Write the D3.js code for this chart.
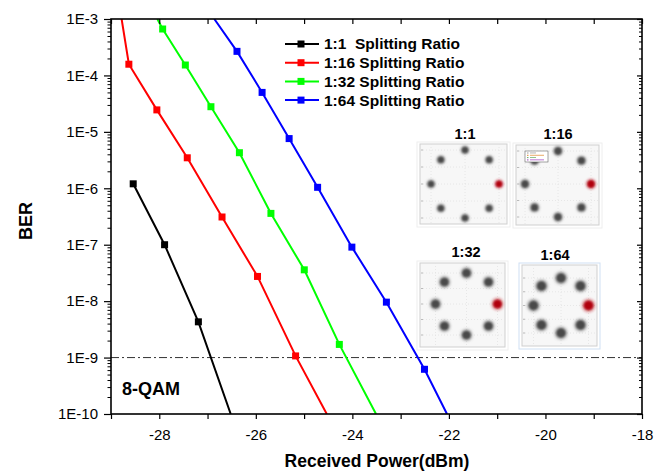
<!DOCTYPE html>
<html>
<head>
<meta charset="utf-8">
<script src="https://cdn.jsdelivr.net/npm/d3@7"></script>
<style>
  html, body { margin: 0; padding: 0; background: #fff; }
  svg { display: block; font-family: Arial, "Liberation Sans", sans-serif; }
</style>
</head>
<body>
<svg id="chart" width="666" height="473"></svg>
<script>
// ---- BER measurements (received power in dBm, BER) ----
const seriesNames = ["1:1  Splitting Ratio", "1:16 Splitting Ratio", "1:32 Splitting Ratio", "1:64 Splitting Ratio"];
const seriesColors = ["#000000", "#ff0000", "#00ff00", "#0000ff"];

const power_1_1 = [-28.54, -27.89, -27.19];
const ber_1_1   = [1.2e-6, 1.0e-7, 4.3e-9];

const power_1_16 = [-28.63, -28.05, -27.42, -26.70, -25.965, -25.176];
const ber_1_16   = [1.58e-4, 2.45e-5, 3.47e-6, 3.1e-7, 2.74e-8, 1.07e-9];

const power_1_32 = [-27.93, -27.46, -26.93, -26.34, -25.687, -24.996, -24.27];
const ber_1_32   = [6.65e-4, 1.53e-4, 2.79e-5, 4.27e-6, 3.59e-7, 3.59e-8, 1.71e-9];

const power_1_64 = [-26.39, -25.87, -25.31, -24.72, -24.01, -23.295, -22.506];
const ber_1_64   = [2.67e-4, 5.0e-5, 7.6e-6, 1.04e-6, 9.06e-8, 9.6e-9, 6.2e-10];

// where each fitted trace meets the top (BER = 1E-3) and bottom (BER = 1E-10) of the frame
const topCrossPower    = [null, -28.78, -28.04, -26.86];
const bottomCrossPower = [-26.52, -24.53, -23.51, -22.04];

// axes
const powerDomain = [-29, -18];
const berDomain = [1e-10, 1e-3];
const powerTickValues = [-29, -28, -27, -26, -25, -24, -23, -22, -21, -20, -19, -18];
const powerTickLabels = ["", "-28", "", "-26", "", "-24", "", "-22", "", "-20", "", "-18"];
const berExponents = [-10, -9, -8, -7, -6, -5, -4, -3];
const berTickLabels = ["1E-10", "1E-9", "1E-8", "1E-7", "1E-6", "1E-5", "1E-4", "1E-3"];
const berThreshold = 1e-9;

// 8-QAM constellation (I, Q); the point on the +I axis is highlighted
const qamI = [0, -0.71, 0.71, -1, 1, -0.71, 0.71, 0];
const qamQ = [1, 0.71, 0.71, 0, 0, -0.71, -0.71, -1];
const insetTitles = ["1:1", "1:16", "1:32", "1:64"];

const seriesPower = [power_1_1, power_1_16, power_1_32, power_1_64];
const seriesBer = [ber_1_1, ber_1_16, ber_1_32, ber_1_64];

// ---- layout ----
const plot = { left: 111, right: 642, top: 19, bottom: 414 };
const svg = d3.select("#chart");

const x = d3.scaleLinear().domain(powerDomain).range([plot.left, plot.right]);
const y = d3.scaleLog().domain(berDomain).range([plot.bottom, plot.top]);

const defs = svg.append("defs");
defs.append("clipPath").attr("id", "plotClip")
  .append("rect")
  .attr("x", plot.left).attr("y", plot.top)
  .attr("width", plot.right - plot.left).attr("height", plot.bottom - plot.top);

// minor decade ticks 2..9 x 10^k
const minorBer = [];
berExponents.slice(0, -1).forEach(k => {
  for (let m = 2; m <= 9; m++) minorBer.push(m * Math.pow(10, k));
});
const majorBer = berExponents.map(k => Math.pow(10, k));

// ---- threshold line ----
svg.append("line")
  .attr("x1", plot.left).attr("x2", plot.right)
  .attr("y1", y(berThreshold)).attr("y2", y(berThreshold))
  .attr("stroke", "#333").attr("stroke-width", 1)
  .attr("stroke-dasharray", "8,3,2,3");

// ---- constellation insets ----
const insetBoxes = [
  { x: 420, y: 144, w: 87, h: 80, cx: 465, cy: 184, r: 34, tx: 465, ty: 139, blob: 3.5, blur: 0.8 },
  { x: 516, y: 145, w: 83, h: 80, cx: 558, cy: 184, r: 33, tx: 558, ty: 139, blob: 3.9, blur: 0.9 },
  { x: 420, y: 263, w: 85, h: 84, cx: 466.5, cy: 304, r: 31, tx: 466, ty: 257, blob: 4.6, blur: 1.1 },
  { x: 522, y: 265, w: 75, h: 81, cx: 561, cy: 305.5, r: 27.5, tx: 555, ty: 260, blob: 5.0, blur: 1.3 }
];

insetBoxes.forEach((b, i) => {
  const fid = "blur" + i;
  defs.append("filter").attr("id", fid).attr("x", "-100%").attr("y", "-100%").attr("width", "300%").attr("height", "300%")
    .append("feGaussianBlur").attr("stdDeviation", b.blur);

  const g = svg.append("g");
  g.append("rect")
    .attr("x", b.x - 3).attr("y", b.y - 2).attr("width", b.w + 6).attr("height", b.h + 5)
    .attr("fill", "#ffffff").attr("stroke", i === 3 ? "#cfe0f3" : "#eeeeee").attr("stroke-width", 1);
  g.append("rect")
    .attr("x", b.x).attr("y", b.y).attr("width", b.w).attr("height", b.h)
    .attr("fill", "#f7f7f7").attr("stroke", "#cfcfcf").attr("stroke-width", 1);

  const ix = d3.scaleLinear().domain([-1, 1]).range([b.cx - b.r, b.cx + b.r]);
  const iq = d3.scaleLinear().domain([-1, 1]).range([b.cy + b.r, b.cy - b.r]);

  // faint grid
  [-1, -0.5, 0, 0.5, 1].forEach(v => {
    g.append("line").attr("x1", b.x).attr("x2", b.x + b.w)
      .attr("y1", iq(v)).attr("y2", iq(v))
      .attr("stroke", "#e2e2e2").attr("stroke-width", 0.8).attr("stroke-dasharray", "1,2");
    g.append("line").attr("x1", b.x + 1).attr("x2", b.x + 3)
      .attr("y1", iq(v)).attr("y2", iq(v)).attr("stroke", "#aaa").attr("stroke-width", 0.8);
  });
  [-1, 0, 1].forEach(v => {
    g.append("line").attr("y1", b.y).attr("y2", b.y + b.h)
      .attr("x1", ix(v)).attr("x2", ix(v))
      .attr("stroke", "#e2e2e2").attr("stroke-width", 0.8).attr("stroke-dasharray", "1,2");
  });

  // symbol clusters
  const pts = qamI.map((v, j) => ({ i: v, q: qamQ[j], hi: qamI[j] === 1 }));
  const cg = g.append("g").attr("filter", `url(#${fid})`);
  cg.selectAll("circle.halo").data(pts).join("circle")
    .attr("cx", d => ix(d.i)).attr("cy", d => iq(d.q))
    .attr("r", b.blob * 1.45)
    .attr("fill", d => d.hi ? "#c0202a" : "#777")
    .attr("opacity", 0.3);
  cg.selectAll("circle.core").data(pts).join("circle")
    .attr("cx", d => ix(d.i)).attr("cy", d => iq(d.q))
    .attr("r", b.blob)
    .attr("fill", d => d.hi ? "#b00010" : "#4a4a4a");

  // small legend box in the 1:16 panel
  if (i === 1) {
    const lg = g.append("g");
    lg.append("rect").attr("x", 525).attr("y", 151).attr("width", 23).attr("height", 11)
      .attr("fill", "#fff").attr("stroke", "#666").attr("stroke-width", 0.6);
    ["#999", "#e08a30", "#6a6", "#a040c0"].forEach((c, k) => {
      lg.append("rect").attr("x", 527).attr("y", 152.5 + k * 2.3).attr("width", 1.5).attr("height", 1)
        .attr("fill", c);
      lg.append("rect").attr("x", 530).attr("y", 152.5 + k * 2.3).attr("width", k % 2 ? 14 : 6).attr("height", 0.9)
        .attr("fill", c).attr("opacity", 0.8);
    });
  }

  svg.append("text")
    .attr("x", b.tx).attr("y", b.ty)
    .attr("text-anchor", "middle")
    .attr("font-size", "14.5px").attr("font-weight", "bold")
    .text(insetTitles[i]);
});

// ---- BER traces ----
const line = d3.line().x(d => x(d[0])).y(d => y(d[1]));
const traces = svg.append("g").attr("clip-path", "url(#plotClip)");

seriesPower.forEach((pw, s) => {
  const pts = pw.map((p, j) => [p, seriesBer[s][j]]);
  const path = [];
  if (topCrossPower[s] !== null) path.push([topCrossPower[s], berDomain[1]]);
  path.push(...pts);
  path.push([bottomCrossPower[s], berDomain[0]]);
  traces.append("path").datum(path)
    .attr("d", line)
    .attr("fill", "none")
    .attr("stroke", seriesColors[s])
    .attr("stroke-width", 2);
  traces.selectAll(null).data(pts).join("rect")
    .attr("x", d => x(d[0]) - 3.5).attr("y", d => y(d[1]) - 3.5)
    .attr("width", 7).attr("height", 7)
    .attr("fill", seriesColors[s]);
});

// ---- axes & frame ----
const axisFont = g => g.selectAll("text")
  .attr("font-family", "Arial, 'Liberation Sans', sans-serif")
  .attr("font-size", "15px").attr("fill", "#000");

// bottom
svg.append("g")
  .attr("transform", `translate(0,${plot.bottom})`)
  .call(d3.axisBottom(x).tickValues(powerTickValues)
    .tickFormat((d, i) => powerTickLabels[i]).tickSize(5).tickPadding(10))
  .call(g => g.select(".domain").remove())
  .call(g => g.selectAll("line").attr("stroke", "#000").attr("stroke-width", 1.2))
  .call(axisFont);

// top (inward ticks)
svg.append("g")
  .attr("transform", `translate(0,${plot.top})`)
  .call(d3.axisBottom(x).tickValues(powerTickValues).tickFormat("").tickSize(5))
  .call(g => g.select(".domain").remove())
  .call(g => g.selectAll("line").attr("stroke", "#000").attr("stroke-width", 1.2));

// left major
svg.append("g")
  .attr("transform", `translate(${plot.left},0)`)
  .call(d3.axisLeft(y).tickValues(majorBer)
    .tickFormat((d, i) => berTickLabels[i]).tickSize(7).tickPadding(6))
  .call(g => g.select(".domain").remove())
  .call(g => g.selectAll("line").attr("stroke", "#000").attr("stroke-width", 1.2))
  .call(axisFont);
// left minor
svg.append("g")
  .attr("transform", `translate(${plot.left},0)`)
  .call(d3.axisLeft(y).tickValues(minorBer).tickFormat("").tickSize(3.5))
  .call(g => g.select(".domain").remove())
  .call(g => g.selectAll("line").attr("stroke", "#000").attr("stroke-width", 1));

// right (inward ticks)
svg.append("g")
  .attr("transform", `translate(${plot.right},0)`)
  .call(d3.axisRight(y).tickValues(majorBer).tickFormat("").tickSize(-5))
  .call(g => g.select(".domain").remove())
  .call(g => g.selectAll("line").attr("stroke", "#000").attr("stroke-width", 1.2));
svg.append("g")
  .attr("transform", `translate(${plot.right},0)`)
  .call(d3.axisRight(y).tickValues(minorBer).tickFormat("").tickSize(-3))
  .call(g => g.select(".domain").remove())
  .call(g => g.selectAll("line").attr("stroke", "#000").attr("stroke-width", 1));

svg.append("rect")
  .attr("x", plot.left).attr("y", plot.top)
  .attr("width", plot.right - plot.left).attr("height", plot.bottom - plot.top)
  .attr("fill", "none").attr("stroke", "#000").attr("stroke-width", 1.6);

// ---- legend ----
const legend = svg.append("g");
seriesNames.forEach((name, s) => {
  const ly = 44 + s * 18.7;
  legend.append("line").attr("x1", 285).attr("x2", 319).attr("y1", ly).attr("y2", ly)
    .attr("stroke", seriesColors[s]).attr("stroke-width", 2);
  legend.append("rect").attr("x", 301 - 3.5).attr("y", ly - 3.5).attr("width", 7).attr("height", 7)
    .attr("fill", seriesColors[s]);
  legend.append("text").attr("x", 324).attr("y", ly).attr("dy", "0.35em")
    .attr("font-size", "15.5px").attr("font-weight", "bold")
    .style("white-space", "pre").attr("xml:space", "preserve")
    .text(name);
});

// ---- labels ----
svg.append("text")
  .attr("x", 122).attr("y", 395)
  .attr("font-size", "18px").attr("font-weight", "bold")
  .text("8-QAM");

svg.append("text")
  .attr("transform", "translate(32,221) rotate(-90)")
  .attr("text-anchor", "middle")
  .attr("font-size", "18px").attr("font-weight", "bold")
  .text("BER");

svg.append("text")
  .attr("x", 377).attr("y", 467)
  .attr("text-anchor", "middle")
  .attr("font-size", "17.5px").attr("font-weight", "bold")
  .text("Received Power(dBm)");
</script>
</body>
</html>
